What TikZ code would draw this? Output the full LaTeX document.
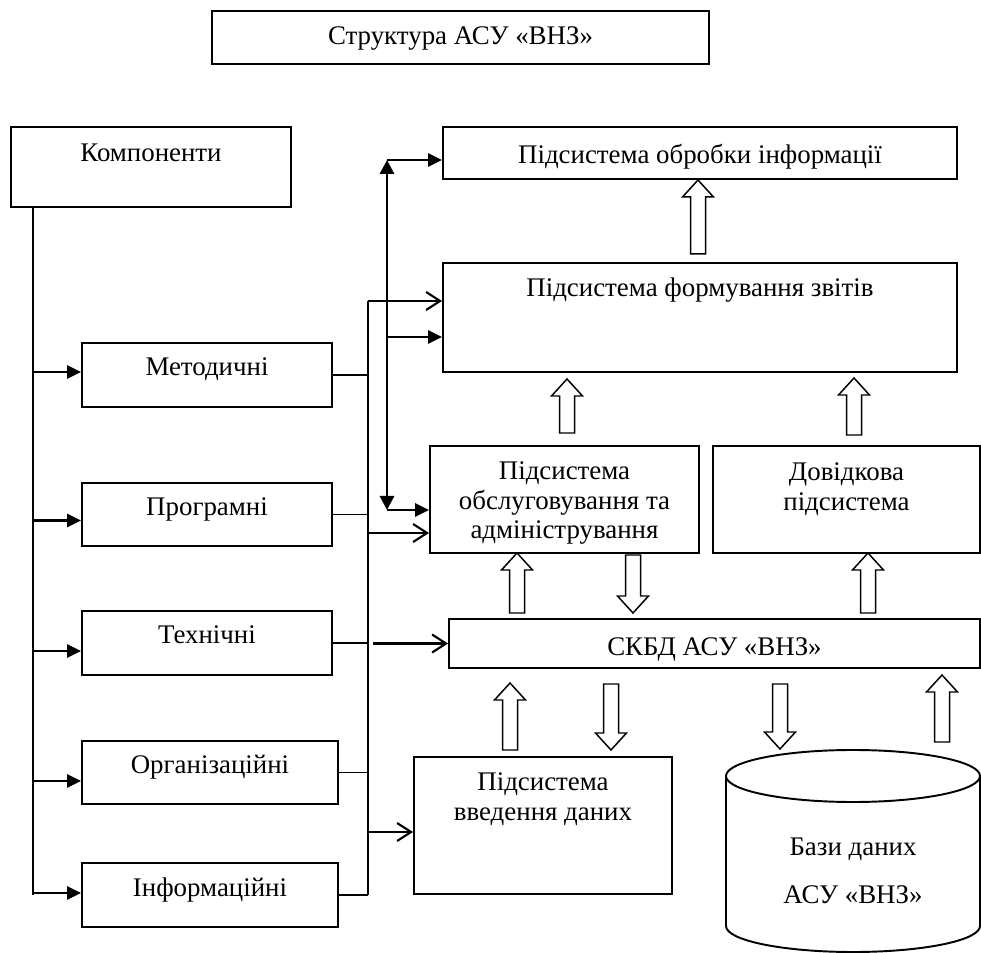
\documentclass[tikz,border=0pt]{standalone}
\usepackage{fontspec}
\setmainfont{Liberation Serif}
\usetikzlibrary{positioning,arrows.meta}

\begin{document}
\begin{tikzpicture}[
    box/.style={draw, line width=1.1pt, inner sep=0pt},
    lbl/.style={inner sep=0pt, align=center, font=\fontsize{15.3}{17}\selectfont},
    bus/.style={line width=0.75pt},
    thk/.style={line width=1.7pt},
    fillarrow/.style={thk, -{Triangle[length=0.28cm,width=0.26cm]}},
    dblarrow/.style={thk, {Triangle[length=0.28cm,width=0.28cm]}-{Triangle[length=0.28cm,width=0.28cm]}},
    openarrow/.style={line width=1.2pt, -{Straight Barb[length=0.28cm,width=0.36cm]}},
    pics/blk/.style={code={
        \draw[line width=0.85pt, fill=white]
            (-0.15,0) -- (-0.15,#1-0.34) -- (-0.31,#1-0.34) -- (0,#1)
            -- (0.31,#1-0.34) -- (0.15,#1-0.34) -- (0.15,0) -- cycle;
    }}
]
    \useasboundingbox (0,0) rectangle (19.62,-19.06);

    % Boxes
    \node[box, minimum width=9.94cm, minimum height=1.06cm] (titl) at (9.21,-0.75) {};
    \node[box, minimum width=5.6cm, minimum height=1.6cm] (komp) at (3.02,-3.34) {};
    \node[box, minimum width=5cm, minimum height=1.28cm] (meth) at (4.14,-7.5) {};
    \node[box, minimum width=5cm, minimum height=1.26cm] (prog) at (4.14,-10.29) {};
    \node[box, minimum width=5cm, minimum height=1.28cm] (tech) at (4.14,-12.86) {};
    \node[box, minimum width=5.12cm, minimum height=1.26cm] (org) at (4.2,-15.45) {};
    \node[box, minimum width=5.12cm, minimum height=1.28cm] (inf) at (4.2,-17.9) {};
    \node[box, minimum width=10.28cm, minimum height=1.04cm] (obr) at (14,-3.06) {};
    \node[box, minimum width=10.28cm, minimum height=2.18cm] (form) at (14,-6.35) {};
    \node[box, minimum width=5.38cm, minimum height=2.14cm] (obsl) at (11.29,-9.99) {};
    \node[box, minimum width=5.34cm, minimum height=2.14cm] (dov) at (16.93,-9.99) {};
    \node[box, minimum width=10.62cm, minimum height=0.98cm] (skbd) at (14.29,-12.87) {};
    \node[box, minimum width=5.16cm, minimum height=2.74cm] (vved) at (10.86,-16.51) {};

    % Database
    \draw[line width=1.1pt] (14.52,-15.52) -- (14.52,-18.52)
        arc[start angle=180, end angle=360, x radius=2.54, y radius=0.52] -- (19.6,-15.52);
    \draw[line width=1.1pt, fill=white] (17.06,-15.52) ellipse [x radius=2.54, y radius=0.52];

    % Labels
    \node[lbl, below=0.32cm of titl.north] (titl-t) {Структура АСУ «ВНЗ»};
    \node[lbl, below=0.36cm of komp.north] (komp-t) {Компоненти};
    \node[lbl, below=0.3cm of meth.north] (meth-t) {Методичні};
    \node[lbl, below=0.3cm of prog.north] (prog-t) {Програмні};
    \node[lbl, below=0.3cm of tech.north] (tech-t) {Технічні};
    \node[lbl, below=0.3cm of org.north] (org-t) {Організаційні};
    \node[lbl, below=0.3cm of inf.north] (inf-t) {Інформаційні};
    \node[lbl, below=0.36cm of obr.north] (obr-t) {Підсистема обробки інформації};
    \node[lbl, below=0.3cm of form.north] (form-t) {Підсистема формування звітів};
    \node[lbl, below=0.32cm of obsl.north] (obsl-t) {Підсистема\\обслуговування та\\адміністрування};
    \node[lbl, below=0.34cm of dov.north] (dov-t) {Довідкова\\підсистема};
    \node[lbl, below=0.38cm of skbd.north] (skbd-t) {СКБД АСУ «ВНЗ»};
    \node[lbl, below=0.32cm of vved.north] (vved-t) {Підсистема\\введення даних};
    \node[lbl, anchor=north] (bd) at (17.06,-16.76) {Бази даних\\[10pt]АСУ «ВНЗ»};

    % Block arrows
    \pic at (13.96,-5.08) {blk=1.48};
    \pic at (11.34,-8.66) {blk=1.08};
    \pic at (17.08,-8.7) {blk=1.14};
    \pic at (10.34,-12.26) {blk=1.2};
    \pic[rotate=180] at (12.66,-11.1) {blk=1.16};
    \pic at (17.36,-12.26) {blk=1.2};
    \pic at (10.2,-15) {blk=1.34};
    \pic[rotate=180] at (12.22,-13.68) {blk=1.32};
    \pic[rotate=180] at (15.6,-13.68) {blk=1.3};
    \pic at (18.84,-14.84) {blk=1.34};

    % Left bus
    \coordinate (lb) at (0.66,-4.14);
    \draw[bus] (lb) -- (lb |- inf.west);
    \foreach \n/\s in {meth/0.06,prog/-0.12,tech/-0.16,org/-0.17,inf/0.04} {
        \coordinate (p) at ([yshift=\s cm]\n.west);
        \draw[fillarrow] (lb |- p) -- (p);
    }

    % Right bus
    \coordinate (rb) at (7.36,-6.02);
    \coordinate (r2) at (7.36,-10.66);
    \coordinate (r4) at (7.36,-16.64);
    \draw[bus] (rb) -- (rb |- inf.east);
    \foreach \n in {meth,prog,tech,org,inf}
        \draw[bus] (\n.east) -- (\n.east -| rb);
    \draw[openarrow] (rb) -- (rb -| form.west);
    \draw[openarrow] (r2) -- (r2 -| obsl.west);
    \draw[openarrow] ([xshift=-1.5cm]skbd.west) -- (skbd.west);
    \draw[openarrow] (r4) -- (r4 -| vved.west);

    % Double arrow
    \coordinate (vt) at (7.74,-3.2);
    \coordinate (vm) at (7.74,-6.74);
    \coordinate (vb) at (7.74,-10.2);
    \draw[dblarrow] (vt) -- (vb);
    \draw[fillarrow] (vt) -- (vt -| obr.west);
    \draw[fillarrow] (vm) -- (vm -| form.west);
    \draw[fillarrow] (vb) -- (vb -| obsl.west);

\end{tikzpicture}
\end{document}
